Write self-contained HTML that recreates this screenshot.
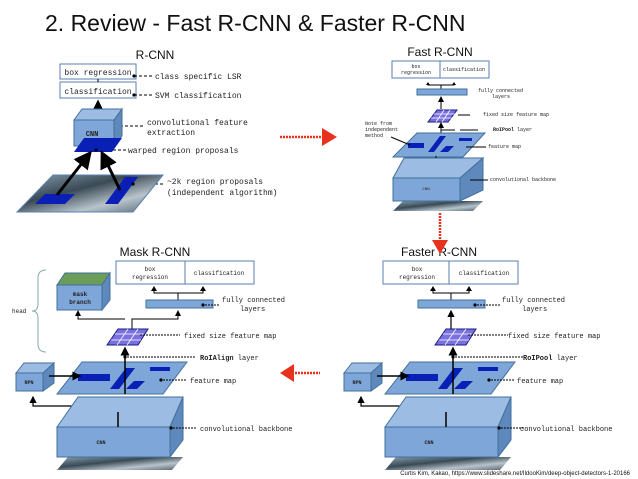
<!DOCTYPE html>
<html><head><meta charset="utf-8"><style>
html,body{margin:0;padding:0;background:#fff;}
svg{display:block}
.m{font-family:"Liberation Mono",monospace;fill:#222;}
.s{font-family:"Liberation Sans",sans-serif;fill:#111;}
</style></head><body>
<svg width="638" height="479" viewBox="0 0 638 479" xmlns="http://www.w3.org/2000/svg">
<defs>
<marker id="ah" markerWidth="6" markerHeight="6" refX="5" refY="3" orient="auto"><path d="M0,0 L6,3 L0,6 z" fill="#000"/></marker>
<linearGradient id="img" x1="0" x2="1" y1="0" y2="1"><stop offset="0" stop-color="#8aa0b4"/><stop offset="0.4" stop-color="#3a4a55"/><stop offset="0.7" stop-color="#b8c4cc"/><stop offset="1" stop-color="#55626c"/></linearGradient>
</defs>
<text x="45" y="31" class="s" font-size="23">2. Review - Fast R-CNN &amp; Faster R-CNN</text>

<!-- R-CNN -->
<text x="155" y="59" class="s" font-size="12" text-anchor="middle">R-CNN</text>
<rect x="60" y="64" width="76" height="15" fill="#fff" stroke="#5a7fae"/>
<rect x="60" y="82" width="76" height="16" fill="#fff" stroke="#5a7fae"/>
<text x="98" y="75" class="m" font-size="8" text-anchor="middle">box regression</text>
<text x="98" y="94" class="m" font-size="8" text-anchor="middle">classification</text>
<line x1="98" y1="82" x2="98" y2="79" stroke="#000"/>
<g stroke="#000" stroke-dasharray="3,2"><line x1="134" y1="76" x2="152" y2="76"/><line x1="134" y1="95" x2="152" y2="95"/><line x1="115" y1="126" x2="145" y2="126"/><line x1="98" y1="150" x2="126" y2="150"/><line x1="135" y1="184" x2="165" y2="184"/></g>
<circle cx="134" cy="76" r="1.6"/><circle cx="134" cy="95" r="1.6"/><circle cx="115" cy="126" r="1.6"/>
<text x="155" y="79" class="m" font-size="8">class specific LSR</text>
<text x="155" y="98" class="m" font-size="8">SVM classification</text>
<text x="147" y="125" class="m" font-size="8">convolutional feature</text>
<text x="147" y="135" class="m" font-size="8">extraction</text>
<text x="128" y="153" class="m" font-size="8">warped region proposals</text>
<text x="167" y="184" class="m" font-size="8">~2k region proposals</text>
<text x="167" y="195" class="m" font-size="8">(independent algorithm)</text>
<line x1="98" y1="117" x2="98" y2="102" stroke="#000" stroke-width="2.5" marker-end="url(#ah)"/>
<polygon points="74,120 82,109 122,109 114,120" fill="#9dbce4" stroke="#41719c"/>
<polygon points="114,120 122,109 122,136 114,146" fill="#5f88bd" stroke="#41719c"/>
<rect x="74" y="120" width="40" height="26" fill="#7ea6d8" stroke="#41719c"/>
<text x="92" y="136" class="m" font-size="7" font-weight="bold" text-anchor="middle">CNN</text>
<polygon points="74,152 84,138 122,138 112,152" fill="#0a1fb5"/>
<circle cx="96" cy="150" r="1.6"/>
<polygon points="17,212 53,175 163,175 133,212" fill="url(#img)" stroke="#5a7fae"/>
<polygon points="35,204 45,194 75,194 65,204" fill="#0a1fb5"/>
<polygon points="105,204 125,177 138,177 118,204" fill="#0a1fb5"/>
<circle cx="133" cy="184" r="1.6"/>
<line x1="57" y1="195" x2="90" y2="153" stroke="#000" stroke-width="3" marker-end="url(#ah)"/>
<line x1="120" y1="190" x2="102" y2="153" stroke="#000" stroke-width="3" marker-end="url(#ah)"/>
<line x1="280" y1="137" x2="322" y2="137" stroke="#e8321e" stroke-width="2.5" stroke-dasharray="2,1"/>
<polygon points="322,128 337,137 322,146" fill="#e8321e"/>

<!-- Fast R-CNN -->
<text x="440" y="56" class="s" font-size="12" text-anchor="middle">Fast R-CNN</text>
<rect x="392" y="61" width="97" height="17" fill="#fff" stroke="#5a7fae"/>
<line x1="440" y1="61" x2="440" y2="78" stroke="#5a7fae"/>
<text x="416" y="68" class="m" font-size="5" text-anchor="middle">box</text>
<text x="416" y="74" class="m" font-size="5" text-anchor="middle">regression</text>
<text x="464" y="71" class="m" font-size="5" text-anchor="middle">classification</text>
<path d="M428,83 V85 H454 V83" stroke="#000" fill="none"/><line x1="441" y1="89" x2="441" y2="85" stroke="#000"/>
<polygon points="428,82 426,85 430,85" /><polygon points="454,82 452,85 456,85"/>
<rect x="417" y="89" width="50" height="6" fill="#7ea6d8" stroke="#41719c"/>
<line x1="441" y1="109" x2="441" y2="97" stroke="#000" marker-end="url(#ah)"/>
<polygon points="428,122 437,110 457,110 448,122" fill="#7a70e0" stroke="#1b1b80"/>
<g stroke="#fff" stroke-width="0.8"><line x1="431" y1="118" x2="453" y2="118"/><line x1="434" y1="114" x2="455" y2="114"/><line x1="436" y1="122" x2="444" y2="110"/><line x1="442" y1="122" x2="450" y2="110"/></g>
<line x1="441" y1="133" x2="441" y2="123" stroke="#000" marker-end="url(#ah)"/>
<line x1="441" y1="130" x2="455" y2="130" stroke="#000"/>
<line x1="460" y1="130" x2="478" y2="130" stroke="#000"/>
<line x1="458" y1="115" x2="470" y2="115" stroke="#000"/>
<polygon points="393,157 417,133 485,133 463,157" fill="#7ea6d8" stroke="#41719c"/>
<rect x="408" y="143" width="16" height="5" fill="#0a1fb5"/>
<polygon points="428,152 440,136 446,136 434,152" fill="#0a1fb5"/>
<rect x="459" y="138" width="13" height="3" fill="#0a1fb5"/>
<polygon points="440,152 446,146 454,146 448,152" fill="#0a1fb5"/>
<line x1="391" y1="137" x2="410" y2="145" stroke="#000"/>
<line x1="466" y1="147" x2="486" y2="147" stroke="#000"/>
<line x1="436" y1="169" x2="436" y2="157" stroke="#000" stroke-width="1.5" marker-end="url(#ah)"/>
<polygon points="393,211 403,201 483,201 473,211" fill="url(#img)"/>
<polygon points="393,178 404,158 483,158 460,178" fill="#9dbce4" stroke="#41719c"/>
<polygon points="460,178 483,158 483,190 460,201" fill="#5f88bd" stroke="#41719c"/>
<rect x="393" y="178" width="67" height="23" fill="#7ea6d8" stroke="#41719c"/>
<text x="426" y="190" class="m" font-size="4" text-anchor="middle">CNN</text>
<line x1="470" y1="180" x2="488" y2="180" stroke="#000"/>
<text x="478" y="92" class="m" font-size="5">fully connected</text>
<text x="492" y="98" class="m" font-size="5">layers</text>
<text x="483" y="116" class="m" font-size="5">fixed size feature map</text>
<text x="493" y="131" class="m" font-size="5"><tspan font-weight="bold">RoIPool</tspan> layer</text>
<text x="488" y="148" class="m" font-size="5">feature map</text>
<text x="490" y="181" class="m" font-size="5">convolutional backbone</text>
<text x="365" y="125" class="m" font-size="5">Note from</text>
<text x="365" y="131" class="m" font-size="5">independent</text>
<text x="365" y="137" class="m" font-size="5">method</text>

<!-- Mask upper -->
<rect x="116" y="261" width="138" height="23" fill="#fff" stroke="#5a7fae"/>
<line x1="185" y1="261" x2="185" y2="284" stroke="#5a7fae"/>
<path d="M154,290 V293 H203 V290" stroke="#000" fill="none"/><line x1="178" y1="300" x2="178" y2="293" stroke="#000"/>
<polygon points="154,286 151,291 157,291"/><polygon points="203,286 200,291 206,291"/>
<rect x="146" y="300" width="67" height="8" fill="#7ea6d8" stroke="#41719c"/>
<circle cx="203" cy="305" r="1.6"/><line x1="205" y1="305" x2="220" y2="305" stroke="#000" stroke-dasharray="2,1"/>
<path d="M132,329 V319 H178 V311" stroke="#000" fill="none" marker-end="url(#ah)"/>

<!-- Faster upper -->
<rect x="383" y="261" width="135" height="23" fill="#fff" stroke="#5a7fae"/>
<line x1="449" y1="261" x2="449" y2="284" stroke="#5a7fae"/>
<path d="M433,290 V293 H469 V290" stroke="#000" fill="none"/><line x1="451" y1="300" x2="451" y2="293" stroke="#000"/>
<polygon points="433,286 430,291 436,291"/><polygon points="469,286 466,291 472,291"/>
<rect x="418" y="300" width="67" height="8" fill="#7ea6d8" stroke="#41719c"/>
<circle cx="475" cy="305" r="1.6"/><line x1="477" y1="305" x2="500" y2="305" stroke="#000" stroke-dasharray="2,1"/>
<line x1="451" y1="329" x2="451" y2="311" stroke="#000" stroke-width="1.2" marker-end="url(#ah)"/>

<!-- shared lower part -->
<g id="q">
<polygon points="107,345 118,329 148,329 138,345" fill="#7a70e0" stroke="#1b1b80"/>
<g stroke="#fff" stroke-width="0.8"><line x1="111" y1="340" x2="141" y2="340"/><line x1="115" y1="334" x2="144" y2="334"/><line x1="117" y1="345" x2="128" y2="329"/><line x1="127" y1="345" x2="138" y2="329"/></g>
<line x1="140" y1="335" x2="180" y2="335" stroke="#000" stroke-dasharray="2,1"/>
<line x1="125" y1="361" x2="125" y2="348" stroke="#000" stroke-width="1.5" marker-end="url(#ah)"/>
<circle cx="125" cy="357" r="1.6"/><line x1="127" y1="357" x2="195" y2="357" stroke="#000" stroke-dasharray="2,1"/>
<polygon points="57,394 82,362 187,362 163,394" fill="#7ea6d8" stroke="#41719c"/>
<rect x="78" y="374" width="32" height="7" fill="#0a1fb5"/>
<polygon points="110,389 126,368 135,368 119,389" fill="#0a1fb5"/>
<rect x="150" y="367" width="20" height="4" fill="#0a1fb5"/>
<polygon points="126,389 134,381 145,381 137,389" fill="#0a1fb5"/>
<line x1="125" y1="394" x2="125" y2="361" stroke="#000" stroke-width="1.5"/>
<circle cx="161" cy="380" r="1.6"/><line x1="163" y1="380" x2="187" y2="380" stroke="#000" stroke-dasharray="2,1"/>
<polygon points="16,373 24,363 54,363 43,373" fill="#9dbce4" stroke="#41719c"/>
<polygon points="43,373 54,363 54,383 43,391" fill="#5f88bd" stroke="#41719c"/>
<rect x="16" y="373" width="27" height="18" fill="#7ea6d8" stroke="#41719c"/>
<line x1="49" y1="376" x2="80" y2="376" stroke="#000" stroke-width="1.5" marker-end="url(#ah)"/>
<path d="M118,412 V406 H33 V397" stroke="#000" fill="none" stroke-width="1.2" marker-end="url(#ah)"/>
<line x1="118" y1="412" x2="118" y2="398" stroke="#000" stroke-width="1.5" marker-end="url(#ah)"/>
<polygon points="57,470 68,457 183,457 172,470" fill="url(#img)"/>
<polygon points="57,427 78,397 183,397 170,427" fill="#9dbce4" stroke="#41719c"/>
<polygon points="170,427 183,397 183,440 170,457" fill="#5f88bd" stroke="#41719c"/>
<rect x="57" y="427" width="113" height="30" fill="#7ea6d8" stroke="#41719c"/>
<line x1="118" y1="412" x2="118" y2="427" stroke="#000" stroke-width="1.5"/>
<circle cx="171" cy="428" r="1.6"/><line x1="173" y1="428" x2="197" y2="428" stroke="#000" stroke-dasharray="2,1"/>
</g>
<use href="#q" transform="translate(328,0)"/>

<!-- Mask-only -->
<text x="155" y="256" class="s" font-size="12" text-anchor="middle">Mask R-CNN</text>
<text x="150" y="271" class="m" font-size="6" text-anchor="middle">box</text>
<text x="150" y="279" class="m" font-size="6" text-anchor="middle">regression</text>
<text x="219" y="275" class="m" font-size="6" text-anchor="middle">classification</text>
<path d="M125,319 H78 V311" stroke="#000" fill="none" marker-end="url(#ah)"/>
<polygon points="57,285 65,273 110,273 102,285" fill="#6b9c5a" stroke="#41719c"/>
<polygon points="102,285 110,273 110,300 102,310" fill="#5f88bd" stroke="#41719c"/>
<rect x="57" y="285" width="45" height="25" fill="#7ea6d8" stroke="#41719c"/>
<text x="80" y="296" class="m" font-size="6" font-weight="bold" text-anchor="middle">mask</text>
<text x="80" y="304" class="m" font-size="6" font-weight="bold" text-anchor="middle">branch</text>
<path d="M46,270 Q38,270 38,278 V304 Q38,311 32,311 Q38,311 38,318 V344 Q38,352 46,352" stroke="#8aa" fill="none"/>
<text x="12" y="313" class="m" font-size="6">head</text>
<text x="29" y="384" class="m" font-size="5" font-weight="bold" text-anchor="middle">RPN</text>
<text x="101" y="444" class="m" font-size="5" font-weight="bold" text-anchor="middle">CNN</text>
<text x="222" y="302" class="m" font-size="7">fully connected</text>
<text x="240" y="311" class="m" font-size="7">layers</text>
<text x="184" y="338" class="m" font-size="7">fixed size feature map</text>
<text x="200" y="360" class="m" font-size="7"><tspan font-weight="bold">RoIAlign</tspan> layer</text>
<text x="190" y="383" class="m" font-size="7">feature map</text>
<text x="200" y="431" class="m" font-size="7">convolutional backbone</text>
<line x1="292" y1="373" x2="320" y2="373" stroke="#e8321e" stroke-width="2.5" stroke-dasharray="2,1"/>
<polygon points="294,364 280,373 294,382" fill="#e8321e"/>

<!-- Faster-only -->
<text x="439" y="256" class="s" font-size="12" text-anchor="middle">Faster R-CNN</text>
<text x="417" y="271" class="m" font-size="6" text-anchor="middle">box</text>
<text x="417" y="279" class="m" font-size="6" text-anchor="middle">regression</text>
<text x="484" y="275" class="m" font-size="6" text-anchor="middle">classification</text>
<text x="357" y="384" class="m" font-size="5" font-weight="bold" text-anchor="middle">RPN</text>
<text x="429" y="444" class="m" font-size="5" font-weight="bold" text-anchor="middle">CNN</text>
<text x="502" y="302" class="m" font-size="7">fully connected</text>
<text x="522" y="311" class="m" font-size="7">layers</text>
<text x="508" y="338" class="m" font-size="7">fixed size feature map</text>
<text x="523" y="360" class="m" font-size="7"><tspan font-weight="bold">RoIPool</tspan> layer</text>
<text x="517" y="383" class="m" font-size="7">feature map</text>
<text x="520" y="431" class="m" font-size="7">convolutional backbone</text>
<text x="630" y="475" class="s" font-size="6" text-anchor="end" fill="#333">Curtis Kim, Kakao, https://www.slideshare.net/IldooKim/deep-object-detectors-1-20166</text>

<line x1="440" y1="213" x2="440" y2="242" stroke="#e8321e" stroke-width="2.5" stroke-dasharray="2,1"/>
<polygon points="432,240 440,254 448,240" fill="#e8321e"/>
</svg>
</body></html>
